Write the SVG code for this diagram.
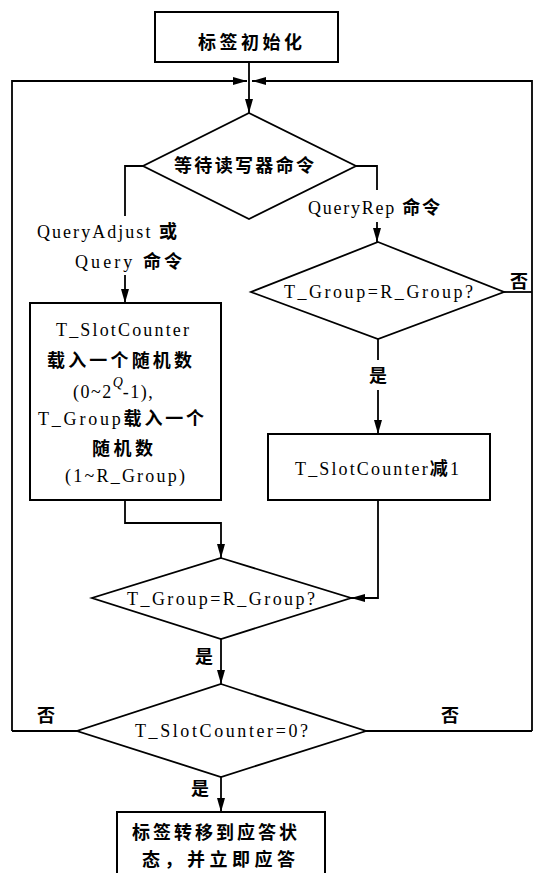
<svg xmlns="http://www.w3.org/2000/svg" width="533" height="873" viewBox="0 0 533 873">
  <style>
    .box { fill: #fff; stroke: #000; stroke-width: 2; }
    .dia { fill: #fff; stroke: #000; stroke-width: 1.8; }
    .wire { fill: none; stroke: #000; stroke-width: 1.8; }
    text { font-family: "Liberation Serif", "Noto Sans CJK SC", serif; font-size: 18px; fill: #000; }
    .cjk { font-family: "Noto Sans CJK SC", sans-serif; font-weight: 700; font-size: 18px; }
    .mid { text-anchor: middle; }
  </style>
  <defs>
    <marker id="arrow" markerUnits="userSpaceOnUse" markerWidth="14" markerHeight="8" refX="14" refY="4" orient="auto">
      <path d="M0,0 L14,4 L0,8 Z" fill="#000"/>
    </marker>
  </defs>
  <rect width="533" height="873" fill="#fff"/>

  <!-- connectors -->
  <g id="connectors">
    <!-- start box to first decision -->
    <path class="wire" d="M249,62 V113" marker-end="url(#arrow)"/>
    <!-- return loops meeting at the top -->
    <path class="wire" d="M12,731 V81 H247" marker-end="url(#arrow)"/>
    <path class="wire" d="M532,731 V81 H252" marker-end="url(#arrow)"/>
    <!-- QueryAdjust / Query branch -->
    <path class="wire" d="M143,166 H125 V216"/>
    <path class="wire" d="M125,275 V303" marker-end="url(#arrow)"/>
    <!-- QueryRep branch -->
    <path class="wire" d="M356,166 H377 V190"/>
    <path class="wire" d="M377,222 V242" marker-end="url(#arrow)"/>
    <!-- group mismatch exits right -->
    <path class="wire" d="M504,292 H532"/>
    <!-- group match -->
    <path class="wire" d="M378,339 V360"/>
    <path class="wire" d="M378,390 V434" marker-end="url(#arrow)"/>
    <!-- boxes into second group check -->
    <path class="wire" d="M125,500 V523 H221 V558" marker-end="url(#arrow)"/>
    <path class="wire" d="M378,500 V598 H351" marker-end="url(#arrow)"/>
    <!-- group check to counter check -->
    <path class="wire" d="M221,639 V684" marker-end="url(#arrow)"/>
    <!-- counter check exits -->
    <path class="wire" d="M77,731 H12"/>
    <path class="wire" d="M366,731 H532"/>
    <path class="wire" d="M221,777 V812" marker-end="url(#arrow)"/>
  </g>

  <g id="init">
    <rect class="box" x="155" y="12" width="183" height="50"/>
    <text class="cjk mid" x="250" y="49" textLength="104" lengthAdjust="spacing">标签初始化</text>
  </g>

  <g id="wait-cmd">
    <polygon class="dia" points="249,113 356,166 249,219 143,166"/>
    <text class="cjk mid" x="244" y="172" textLength="140" lengthAdjust="spacing">等待读写器命令</text>
  </g>

  <g id="labels-cmd">
    <text x="308" y="214" textLength="132" lengthAdjust="spacing">QueryRep <tspan class="cjk">命令</tspan></text>
    <text x="37" y="238" textLength="140" lengthAdjust="spacing">QueryAdjust <tspan class="cjk">或</tspan></text>
    <text x="75" y="268" textLength="107" lengthAdjust="spacing">Query  <tspan class="cjk">命令</tspan></text>
  </g>

  <g id="group-check-1">
    <polygon class="dia" points="378,242 504,292 378,339 251,292"/>
    <text x="284" y="298" textLength="189" lengthAdjust="spacing">T_Group=R_Group?</text>
    <text class="cjk mid" x="519" y="288">否</text>
    <text class="cjk mid" x="378" y="382">是</text>
  </g>

  <g id="load-random">
    <rect class="box" x="30" y="303" width="191" height="197"/>
    <text x="56" y="336" textLength="133" lengthAdjust="spacing">T_SlotCounter</text>
    <text class="cjk" x="47" y="367" textLength="145" lengthAdjust="spacing">载入一个随机数</text>
    <text x="73" y="398" letter-spacing="1.5">(0~2<tspan font-style="italic" font-size="14" dy="-11" letter-spacing="0">Q</tspan><tspan dy="11" dx="0">-1),</tspan></text>
    <text x="38" y="425" textLength="166" lengthAdjust="spacing">T_Group<tspan class="cjk">载入一个</tspan></text>
    <text class="cjk" x="92" y="455" textLength="61" lengthAdjust="spacing">随机数</text>
    <text x="65" y="482" textLength="120" lengthAdjust="spacing">(1~R_Group)</text>
  </g>

  <g id="decrement">
    <rect class="box" x="268" y="434" width="222" height="66"/>
    <text x="295" y="475" textLength="164" lengthAdjust="spacing">T_SlotCounter<tspan class="cjk">减</tspan>1</text>
  </g>

  <g id="group-check-2">
    <polygon class="dia" points="221,558 351,598 221,639 92,598"/>
    <text x="127" y="605" textLength="188" lengthAdjust="spacing">T_Group=R_Group?</text>
    <text class="cjk mid" x="204" y="663">是</text>
  </g>

  <g id="counter-check">
    <polygon class="dia" points="221,684 366,731 221,777 77,731"/>
    <text x="135" y="737" textLength="173" lengthAdjust="spacing">T_SlotCounter=0?</text>
    <text class="cjk mid" x="46" y="722">否</text>
    <text class="cjk mid" x="450" y="722">否</text>
    <text class="cjk mid" x="200" y="795">是</text>
  </g>

  <g id="reply">
    <rect class="box" x="117" y="812" width="208" height="70"/>
    <text class="cjk" x="132" y="839" textLength="165" lengthAdjust="spacing">标签转移到应答状</text>
    <text class="cjk" x="142" y="866" textLength="153" lengthAdjust="spacing">态，并立即应答</text>
  </g>
</svg>
